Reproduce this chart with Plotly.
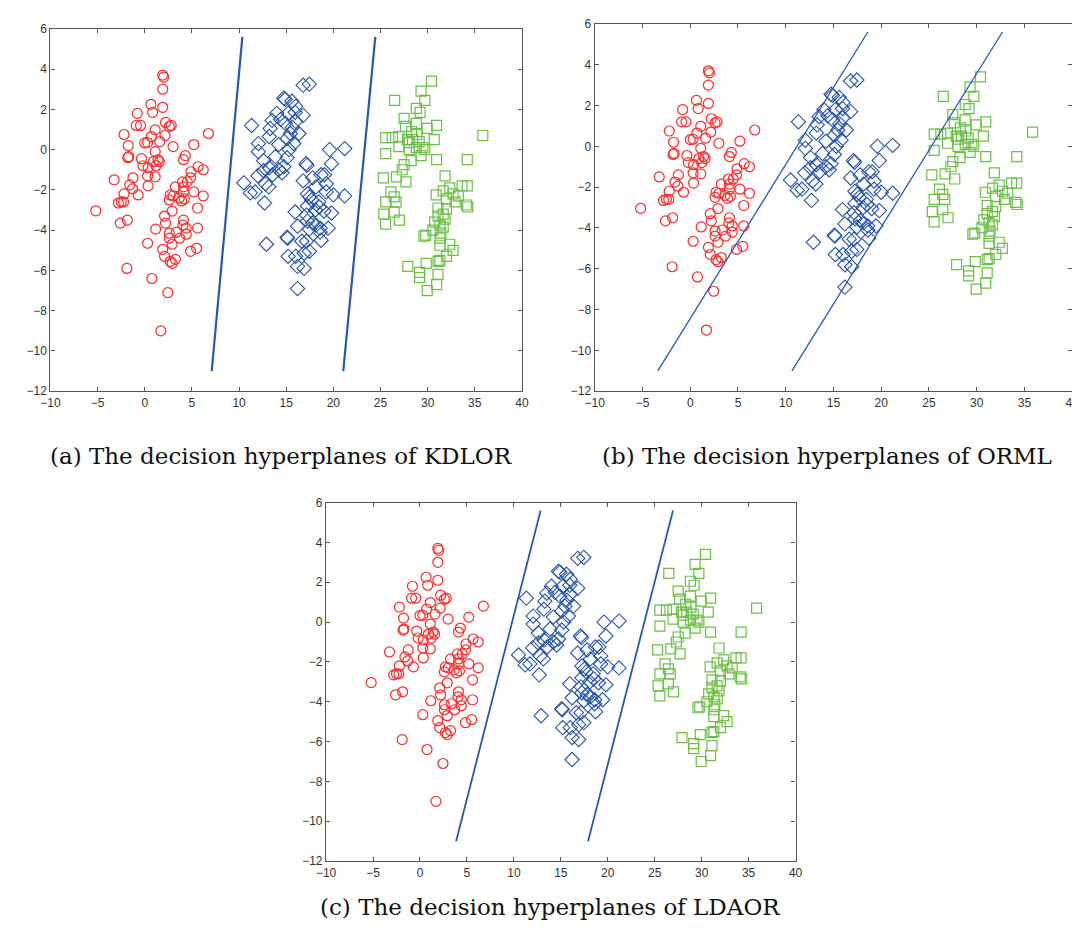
import plotly.graph_objects as go

# ---- data ----
red_x = [-5.2, 2.0, 1.9, 1.9, 0.65, 1.9, 0.83, -0.8, -0.9, -0.45, 2.2, 2.6, 2.8, -2.2, 1.1, 2.15, 0.7,
         6.75, 0.0, 0.3, 1.6, -1.75, 3.0, 5.2, 1.1, -1.7, -1.8, 4.3, -0.35, 4.1, 1.4, 0.9, 1.55, -0.2,
         1.2, 5.65, 6.2, 0.35, 4.9, 0.3, -3.25, -1.25, 1.1, 4.85, 4.5, 4.0, 0.35, -1.6, -1.3, 3.25,
         4.1, 5.2, -0.7, -2.2, 2.7, 4.1, 3.0, 6.2, 3.65, 4.2, 3.9, 2.6, -2.8, -2.5, -2.25, 5.6, 2.9,
         2.1, 2.2, -1.85, -2.6, 4.1, 4.05, 4.4, 1.15, 5.6, 3.35, 2.6, 4.4, 3.7, 2.6, 2.9, 0.3, 1.9,
         5.5, 4.85, 2.1, 2.7, 3.25, 2.9, -1.9, 0.75, 2.45, 1.7]
red_y = [-3.04, 3.6, 3.7, 3.0, 2.25, 2.1, 1.85, 1.8, 1.2, 1.2, 1.35, 1.15, 1.2, 0.75, 0.98, 0.7, 0.65,
         0.8, 0.33, 0.35, 0.4, 0.2, 0.15, 0.25, -0.1, -0.35, -0.4, -0.3, -0.45, -0.5, -0.5, -0.6, -0.6,
         -0.8, -0.8, -0.85, -1.0, -0.9, -1.1, -1.3, -1.5, -1.4, -1.35, -1.4, -1.6, -1.6, -1.8, -1.75,
         -1.95, -1.85, -1.85, -2.1, -2.25, -2.2, -2.25, -2.1, -2.3, -2.3, -2.4, -2.45, -2.55, -2.5,
         -2.65, -2.6, -2.6, -2.9, -3.05, -3.3, -3.65, -3.5, -3.65, -3.5, -3.75, -3.9, -3.95, -3.9,
         -4.1, -4.15, -4.2, -4.4, -4.4, -4.7, -4.65, -4.95, -4.9, -5.05, -5.3, -5.55, -5.45, -5.65,
         -5.9, -6.4, -7.1, -9.0]

blue_x = [11.33, 16.8, 17.45, 14.75, 14.9, 15.6, 16.0, 14.0, 15.95, 15.2, 16.8, 14.4, 14.9, 13.5, 16.0,
          15.65, 13.3, 16.35, 15.45, 13.2, 15.1, 15.8, 14.2, 12.05, 15.3, 19.6, 21.2, 12.05, 13.85,
          15.1, 12.6, 17.1, 17.2, 19.8, 14.75, 13.2, 14.2, 14.55, 13.55, 12.6, 18.7, 19.05, 17.8,
          12.0, 16.8, 19.25, 10.5, 12.8, 13.15, 18.15, 19.25, 20.0, 21.2, 11.2, 11.7, 17.25, 17.5,
          17.7, 18.45, 12.7, 17.25, 18.5, 18.1, 19.0, 15.95, 19.8, 17.15, 17.25, 17.8, 18.15, 16.2,
          18.6, 19.45, 17.45, 18.6, 15.1, 15.15, 18.7, 16.65, 17.15, 12.9, 17.45, 16.9, 15.2, 16.0,
          16.2, 16.9, 16.2]
blue_y = [1.2, 3.2, 3.25, 2.55, 2.5, 2.4, 2.15, 1.8, 1.85, 1.8, 1.7, 1.5, 1.3, 1.45, 1.4,
          1.1, 1.05, 0.8, 0.8, 0.65, 0.55, 0.3, 0.25, 0.3, 0.0, 0.0, 0.05, -0.1, -0.35,
          -0.4, -0.55, -0.7, -0.78, -0.7, -0.85, -0.9, -1.0, -1.15, -1.25, -1.05, -1.25, -1.25, -1.4,
          -1.3, -1.55, -1.7, -1.65, -1.7, -1.85, -1.85, -2.1, -2.25, -2.3, -2.15, -2.1, -2.2, -2.35,
          -2.5, -2.6, -2.65, -2.8, -2.85, -3.0, -3.05, -3.1, -3.15, -3.25, -3.55, -3.65, -3.75, -3.8,
          -3.9, -3.9, -3.95, -4.1, -4.35, -4.4, -4.5, -4.55, -4.55, -4.7, -5.05, -5.15, -5.3, -5.3,
          -5.8, -5.9, -6.9]

green_x = [30.4, 29.3, 26.5, 29.7, 28.8, 29.2, 27.5, 28.8, 30.95, 27.65, 29.95, 28.3, 28.85, 35.85,
           25.55, 26.25, 26.95, 27.85, 28.4, 28.05, 29.1, 30.7, 26.95, 28.8, 29.5, 29.7, 28.05, 25.55,
           29.3, 30.95, 34.2, 28.25, 27.5, 27.3, 25.3, 26.7, 27.7, 31.85, 33.65, 34.2, 31.65, 32.35,
           26.1, 30.9, 32.7, 33.25, 26.45, 32.0, 32.9, 25.55, 26.65, 34.1, 34.25, 31.1, 32.0, 26.45,
           25.35, 31.65, 31.1, 31.85, 27.0, 25.55, 30.75, 31.3, 31.65, 30.55, 31.4, 29.8, 29.6, 31.3,
           32.35, 32.7, 31.3, 32.0, 31.3, 31.1, 29.85, 27.9, 29.15, 29.15, 31.1, 30.95, 29.95]
green_y = [3.4, 2.9, 2.45, 2.45, 2.05, 1.85, 1.55, 1.3, 1.2, 1.15, 1.05, 0.9, 0.75, 0.7,
           0.6, 0.6, 0.65, 0.5, 0.5, 0.35, 0.4, 0.5, 0.15, 0.1, 0.1, 0.0, 0.0, -0.2,
           -0.3, -0.5, -0.5, -0.55, -0.75, -1.0, -1.4, -1.35, -1.6, -1.3, -1.8, -1.8, -2.05, -1.9,
           -2.1, -2.25, -2.2, -2.3, -2.35, -2.45, -2.6, -2.6, -2.6, -2.75, -2.85, -2.9, -2.95, -3.1,
           -3.2, -3.2, -3.3, -3.45, -3.5, -3.7, -3.6, -3.75, -3.85, -4.0, -4.15, -4.25, -4.3, -4.4,
           -4.7, -5.0, -4.75, -5.3, -5.5, -5.55, -5.65, -5.8, -6.1, -6.35, -6.2, -6.7, -7.0]

# decision hyperplanes (two per method), endpoints
kdlor_l1_x = [7.1, 10.35];  kdlor_l1_y = [-11.0, 5.6]
kdlor_l2_x = [21.05, 24.45]; kdlor_l2_y = [-11.0, 5.6]
orml_l1_x = [-3.4, 18.6];   orml_l1_y = [-11.0, 5.6]
orml_l2_x = [10.65, 32.7];  orml_l2_y = [-11.0, 5.6]
ldaor_l1_x = [3.85, 12.85]; ldaor_l1_y = [-11.0, 5.6]
ldaor_l2_x = [17.9, 26.95]; ldaor_l2_y = [-11.0, 5.6]

x_ticks = [-10, -5, 0, 5, 10, 15, 20, 25, 30, 35, 40]
y_ticks = [-12, -10, -8, -6, -4, -2, 0, 2, 4, 6]

captions = ["(a) The decision hyperplanes of KDLOR",
            "(b) The decision hyperplanes of ORML",
            "(c) The decision hyperplanes of LDAOR"]

RED = "#ff2a2a"
BLUE = "#2553a8"
GREEN = "#6cbf45"
LINE = "#2a58b0"

W, H = 1080, 933
# panel boxes in pixels: left, right, top, bottom
boxes = [(33, 512, 14, 382), (586, 1071, 9, 382), (313, 790, 495, 859)]
lines = [((kdlor_l1_x, kdlor_l1_y), (kdlor_l2_x, kdlor_l2_y), 2.2),
         ((orml_l1_x, orml_l1_y), (orml_l2_x, orml_l2_y), 1.3),
         ((ldaor_l1_x, ldaor_l1_y), (ldaor_l2_x, ldaor_l2_y), 1.8)]

fig = go.Figure()
layout = dict(width=W, height=H, margin=dict(l=0, r=0, t=0, b=0),
              paper_bgcolor="white", plot_bgcolor="white", showlegend=False)

for i, ((l, r, t, b), (la, lb, lw)) in enumerate(zip(boxes, lines)):
    n = "" if i == 0 else str(i + 1)
    xa, ya = "x" + n, "y" + n
    fig.add_trace(go.Scatter(x=red_x, y=red_y, mode="markers", xaxis=xa, yaxis=ya,
                             marker=dict(symbol="circle-open", size=10, color=RED, line=dict(width=1.2))))
    fig.add_trace(go.Scatter(x=blue_x, y=blue_y, mode="markers", xaxis=xa, yaxis=ya,
                             marker=dict(symbol="diamond-open", size=11, color=BLUE, line=dict(width=1.1))))
    fig.add_trace(go.Scatter(x=green_x, y=green_y, mode="markers", xaxis=xa, yaxis=ya,
                             marker=dict(symbol="square-open", size=10, color=GREEN, line=dict(width=1.2))))
    for lx, ly in (la, lb):
        fig.add_trace(go.Scatter(x=lx, y=ly, mode="lines", xaxis=xa, yaxis=ya,
                                 line=dict(color=LINE, width=lw)))
    ax_common = dict(showgrid=False, zeroline=False, showline=True, linecolor="#555555", linewidth=1.3,
                     mirror="ticks", ticks="inside", ticklen=4, tickcolor="#555555",
                     tickfont=dict(family="Liberation Sans, Arial", size=12, color="#333333"))
    layout["xaxis" + n] = dict(domain=[l / W, r / W], range=[-10, 40], tickvals=x_ticks,
                               anchor=ya, **ax_common)
    layout["yaxis" + n] = dict(domain=[1 - b / H, 1 - t / H], range=[-12, 6], tickvals=y_ticks,
                               anchor=xa, **ax_common)

cap_pos = [(267, 448), (822, 448), (540, 906)]
annotations = []
for txt, (cx, cy) in zip(captions, cap_pos):
    annotations.append(dict(text=txt, x=cx / W, y=1 - cy / H, xref="paper", yref="paper",
                            showarrow=False, xanchor="center", yanchor="middle",
                            font=dict(family="DejaVu Serif", size=23, color="#111111")))
layout["annotations"] = annotations
fig.update_layout(**layout)
fig.write_html("out.html")
